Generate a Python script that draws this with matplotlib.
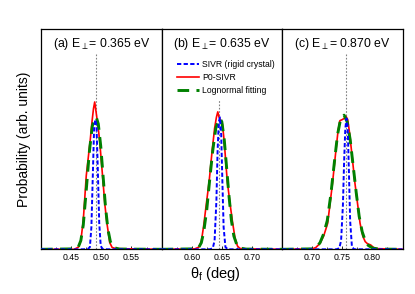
import numpy as np
import matplotlib
matplotlib.use("Agg")
import matplotlib.pyplot as plt
from matplotlib.ticker import MultipleLocator

plt.rcParams['font.family'] = ['Liberation Sans', 'DejaVu Sans']
plt.rcParams['mathtext.fontset'] = 'custom'
plt.rcParams['mathtext.rm'] = 'Liberation Sans'
plt.rcParams['mathtext.it'] = 'Liberation Sans:italic'

# panel settings
titles = ['(a) E$_{\\perp}$= 0.365 eV', '(b) E$_{\\perp}$= 0.635 eV', '(c) E$_{\\perp}$= 0.870 eV']
xlims = [(0.40, 0.60), (0.55, 0.75), (0.65, 0.85)]
xticks = [[0.45, 0.50, 0.55], [0.60, 0.65, 0.70], [0.70, 0.75, 0.80]]
vline_x = [0.4905, 0.646, 0.756]
vline_top = [0.89, 0.68, 0.89]

# P0-SIVR (red)
red_x = [
    [0.400, 0.455, 0.462, 0.466, 0.470, 0.475, 0.4817, 0.4845, 0.487, 0.489, 0.4915, 0.494, 0.497, 0.502, 0.506, 0.5095, 0.514, 0.518, 0.525, 0.600],
    [0.55, 0.605, 0.612, 0.616, 0.620, 0.624, 0.629, 0.634, 0.638, 0.641, 0.6433, 0.6455, 0.648, 0.651, 0.654, 0.659, 0.664, 0.668, 0.672, 0.676, 0.680, 0.69, 0.75],
    [0.65, 0.700, 0.706, 0.713, 0.719, 0.7257, 0.7337, 0.739, 0.743, 0.746, 0.750, 0.753, 0.756, 0.759, 0.762, 0.766, 0.771, 0.7795, 0.784, 0.788, 0.792, 0.797, 0.802, 0.808, 0.85],
]
red_y = [
    [0.0, 0.0, 0.010, 0.040, 0.130, 0.335, 0.500, 0.580, 0.640, 0.670, 0.620, 0.570, 0.500, 0.335, 0.200, 0.115, 0.030, 0.008, 0.003, 0.0],
    [0.0, 0.002, 0.01, 0.035, 0.11, 0.20, 0.31, 0.45, 0.55, 0.60, 0.625, 0.60, 0.585, 0.57, 0.49, 0.31, 0.20, 0.12, 0.05, 0.015, 0.004, 0.002, 0.0],
    [0.0, 0.002, 0.008, 0.027, 0.06, 0.118, 0.30, 0.44, 0.54, 0.585, 0.59, 0.595, 0.605, 0.59, 0.53, 0.43, 0.30, 0.118, 0.06, 0.035, 0.025, 0.02, 0.008, 0.003, 0.0],
]

# Lognormal fitting (green)
green_x = [
    [0.400, 0.455, 0.462, 0.466, 0.470, 0.475, 0.480, 0.485, 0.489, 0.4917, 0.495, 0.499, 0.503, 0.507, 0.511, 0.515, 0.520, 0.530, 0.600],
    [0.55, 0.605, 0.612, 0.616, 0.620, 0.625, 0.630, 0.635, 0.640, 0.644, 0.647, 0.650, 0.654, 0.658, 0.662, 0.666, 0.670, 0.675, 0.68, 0.69, 0.75],
    [0.65, 0.700, 0.707, 0.713, 0.719, 0.725, 0.731, 0.737, 0.742, 0.747, 0.753, 0.758, 0.763, 0.768, 0.773, 0.778, 0.783, 0.788, 0.793, 0.80, 0.81, 0.85],
]
green_y = [
    [0.0, 0.002, 0.012, 0.04, 0.11, 0.27, 0.44, 0.56, 0.595, 0.60, 0.57, 0.47, 0.33, 0.19, 0.09, 0.035, 0.008, 0.001, 0.0],
    [0.0, 0.002, 0.01, 0.03, 0.08, 0.18, 0.32, 0.45, 0.55, 0.585, 0.595, 0.58, 0.50, 0.37, 0.24, 0.13, 0.06, 0.02, 0.006, 0.001, 0.0],
    [0.0, 0.002, 0.01, 0.03, 0.07, 0.13, 0.25, 0.40, 0.52, 0.59, 0.61, 0.58, 0.50, 0.38, 0.26, 0.15, 0.08, 0.04, 0.018, 0.006, 0.001, 0.0],
]

# SIVR rigid crystal (blue)
blue_x = [
    [0.40, 0.470, 0.478, 0.481, 0.4835, 0.486, 0.488, 0.490, 0.492, 0.494, 0.4965, 0.499, 0.502, 0.51, 0.60],
    [0.55, 0.630, 0.635, 0.638, 0.641, 0.643, 0.645, 0.647, 0.649, 0.651, 0.653, 0.656, 0.66, 0.75],
    [0.65, 0.740, 0.745, 0.748, 0.751, 0.753, 0.755, 0.757, 0.759, 0.761, 0.763, 0.766, 0.77, 0.85],
]
blue_y = [
    [0.0, 0.0, 0.002, 0.01, 0.10, 0.35, 0.55, 0.59, 0.56, 0.38, 0.12, 0.015, 0.002, 0.0, 0.0],
    [0.0, 0.0, 0.005, 0.04, 0.22, 0.45, 0.58, 0.60, 0.52, 0.30, 0.10, 0.01, 0.0, 0.0],
    [0.0, 0.0, 0.005, 0.04, 0.20, 0.40, 0.55, 0.595, 0.55, 0.35, 0.13, 0.01, 0.0, 0.0],
]

fig, axes = plt.subplots(1, 3, figsize=(4.15, 2.94), dpi=100)
fig.subplots_adjust(left=0.099, right=0.970, top=0.900, bottom=0.152, wspace=0)

for i, ax in enumerate(axes):
    ax.plot([vline_x[i], vline_x[i]], [0, vline_top[i]], color='grey', ls=(0, (1.5, 1.5)), lw=0.8)
    ax.plot(red_x[i], red_y[i], color='red', lw=1.2, label='P0-SIVR', zorder=3)
    ax.plot(green_x[i], green_y[i], color='green', lw=2.1, ls=(0, (4, 2.5)), label='Lognormal fitting', zorder=4)
    ax.plot(blue_x[i], blue_y[i], color='blue', lw=1.4, ls=(0, (2.2, 1.2)), label='SIVR (rigid crystal)', zorder=5)
    ax.set_xlim(*xlims[i])
    ax.set_ylim(0, 1.0)
    ax.set_yticks([])
    ax.set_xticks(xticks[i])
    ax.set_xticklabels(['%.2f' % t for t in xticks[i]], fontsize=6.3)
    ax.xaxis.set_minor_locator(MultipleLocator(0.025))
    ax.tick_params(axis='x', which='major', direction='in', length=2.5, width=0.6, pad=3)
    ax.tick_params(axis='x', which='minor', direction='in', length=1.5, width=0.5)
    for s in ax.spines.values():
        s.set_linewidth(0.9)
    ax.text(0.5, 0.935, titles[i], transform=ax.transAxes, ha='center', va='center', fontsize=8.8)

h, l = axes[1].get_legend_handles_labels()
order = [2, 0, 1]
axes[1].legend([h[k] for k in order], [l[k] for k in order], loc='upper left',
               bbox_to_anchor=(0.1, 0.875), frameon=False, fontsize=6.2,
               handlelength=2.6, handletextpad=0.3, labelspacing=0.45, borderaxespad=0)

axes[0].set_ylabel('Probability (arb. units)', fontsize=10, labelpad=7)
fig.text(0.518, 0.068, '$\\mathrm{\\theta_{f}}$ (deg)', ha='center', va='center', fontsize=10.5)

fig.savefig('out.png', dpi=100)
